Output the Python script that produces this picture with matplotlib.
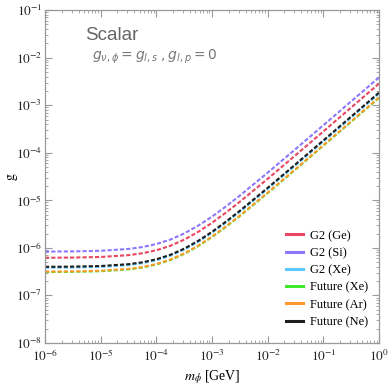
import numpy as np
import matplotlib
matplotlib.use("Agg")
import matplotlib.pyplot as plt
from matplotlib.lines import Line2D
from matplotlib.ticker import LogLocator, NullFormatter

plt.rcParams['mathtext.fontset'] = 'stix'
plt.rcParams['font.family'] = ['Liberation Serif', 'DejaVu Serif']

# mass grid (log10 m / GeV) and rise above the plateau (log10 units)
log_m = [-6, -5.5, -5, -4.5, -4.25, -4, -3.75, -3.5, -3.25, -3, -2.75, -2.5,
         -2, -1.5, -1, -0.5, 0]
rise = [0.002, 0.006, 0.019, 0.057, 0.097, 0.160, 0.254, 0.383, 0.546, 0.738,
        0.952, 1.180, 1.662, 2.158, 2.660, 3.162, 3.665]

# plateau level log10 g of each curve
labels = ['G2 (Ge)', 'G2 (Si)', 'G2 (Xe)', 'Future (Xe)', 'Future (Ar)', 'Future (Ne)']
plateau = [-6.21, -6.08, -6.42, -6.51, -6.50, -6.40]
colors = ['#e8475f', '#8c78ff', '#5bc8ff', '#3ee82a', '#ff9a2a', '#1e1e1e']

x_ticks = [1e-6, 1e-5, 1e-4, 1e-3, 1e-2, 1e-1, 1]
y_ticks = [1e-8, 1e-7, 1e-6, 1e-5, 1e-4, 1e-3, 1e-2, 1e-1]
x_ticklabels = [r'$10^{-6}$', r'$10^{-5}$', r'$10^{-4}$', r'$10^{-3}$',
                r'$10^{-2}$', r'$10^{-1}$', r'$10^{0}$']
y_ticklabels = [r'$10^{-8}$', r'$10^{-7}$', r'$10^{-6}$', r'$10^{-5}$',
                r'$10^{-4}$', r'$10^{-3}$', r'$10^{-2}$', r'$10^{-1}$']

m = 10.0 ** np.array(log_m)

fig = plt.figure(figsize=(3.88, 3.88), dpi=100)
ax = fig.add_axes([0.116, 0.116, 0.861, 0.858])

for lab, p0, c in zip(labels, plateau, colors):
    g = 10.0 ** (p0 + np.array(rise))
    line, = ax.plot(m, g, color=c, lw=1.5, label=lab)
    line.set_dashes((2.0, 1.0))

ax.set_xscale('log')
ax.set_yscale('log')
ax.set_xlim(1e-6, 1)
ax.set_ylim(1e-8, 1e-1)

ax.set_xticks(x_ticks)
ax.set_xticklabels(x_ticklabels)
ax.set_yticks(y_ticks)
ax.set_yticklabels(y_ticklabels)
ax.xaxis.set_minor_locator(LogLocator(base=10, subs=np.arange(2, 10), numticks=20))
ax.yaxis.set_minor_locator(LogLocator(base=10, subs=np.arange(2, 10), numticks=20))
ax.xaxis.set_minor_formatter(NullFormatter())
ax.yaxis.set_minor_formatter(NullFormatter())

frame = '#999999'
for s in ax.spines.values():
    s.set_color(frame)
    s.set_linewidth(0.9)
ax.tick_params(which='both', direction='in', top=True, right=True, color=frame,
               labelsize=9.5, labelcolor='#222222')
ax.tick_params(which='major', length=5, width=0.8)
ax.tick_params(which='minor', length=2.5, width=0.6)
ax.tick_params(axis='y', pad=2)
ax.tick_params(axis='x', pad=4)

ax.set_xlabel(r'$m_\phi$ [GeV]', fontsize=10)
ax.set_ylabel(r'$\mathrm{g}$', fontsize=10, rotation=90)
ax.xaxis.set_label_coords(0.5, -0.075)
ax.yaxis.set_label_coords(-0.075, 0.5)

ax.text(0.12, 0.925, 'Scalar', transform=ax.transAxes, fontsize=13.5,
        color='#666666', family='Liberation Sans', va='center')
ax.text(0.14, 0.86, r'$g_{\nu,\phi} = g_{l,s}\;, g_{l,p} = 0$',
        transform=ax.transAxes, fontsize=10, color='#777777', va='center',
        math_fontfamily='dejavusans')

# legend swatches are solid in the original
handles = [Line2D([], [], color=c, lw=2.2) for c in colors]
ax.legend(handles, labels, loc='upper left', bbox_to_anchor=(0.721, 0.34),
          frameon=False, fontsize=9, handlelength=1.35, handletextpad=0.55,
          labelspacing=0.42, borderpad=0, borderaxespad=0)

plt.savefig('out.png', dpi=100)
